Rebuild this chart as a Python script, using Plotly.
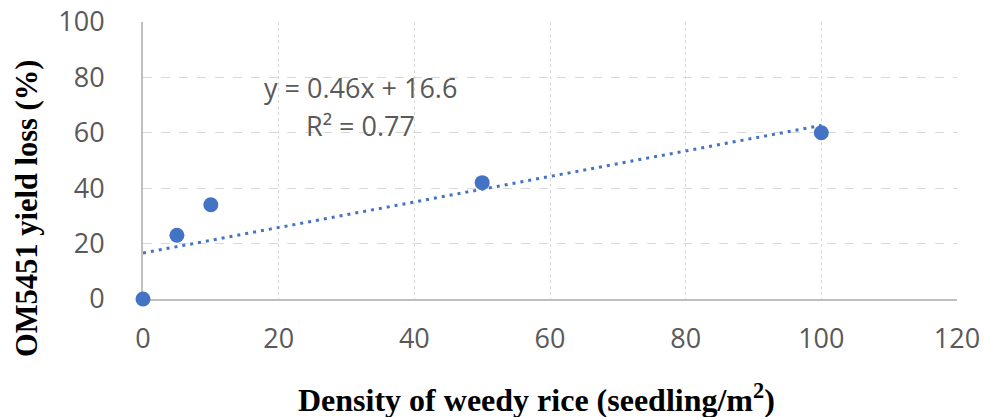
import numpy as np
import plotly.graph_objects as go

density = [0, 5, 10, 50, 100]
yield_loss = [0, 23, 34, 42, 60]
x_ticks = [0, 20, 40, 60, 80, 100, 120]
y_ticks = [0, 20, 40, 60, 80, 100]
equation_label = "y = 0.46x + 16.6"
r2_label = "R² = 0.77"

blue = "#4472C4"
grey_txt = "#595959"

slope, intercept = np.polyfit(density, yield_loss, 1)
trend_x = [min(density), max(density)]
trend_y = [slope * v + intercept for v in trend_x]

fig = go.Figure()
fig.add_trace(go.Scatter(x=trend_x, y=trend_y, mode="lines",
                         line=dict(color=blue, width=3, dash="3px,5px"),
                         hoverinfo="skip", showlegend=False))
fig.add_trace(go.Scatter(x=density, y=yield_loss, mode="markers",
                         marker=dict(color=blue, size=15), showlegend=False,
                         cliponaxis=False))

fig.add_annotation(x=32, y=76.5, xref="x", yref="y", showarrow=False,
                   text=equation_label,
                   font=dict(family="Open Sans", size=27, color=grey_txt))
fig.add_annotation(x=32, y=62.5, xref="x", yref="y", showarrow=False,
                   text=r2_label,
                   font=dict(family="Open Sans", size=27, color=grey_txt))

fig.add_annotation(x=-0.1425, y=0.325, xref="paper", yref="paper", showarrow=False,
                   textangle=-90, xanchor="center", yanchor="middle",
                   text="<b>OM5451 yield loss (%)</b>",
                   font=dict(family="Liberation Serif", size=30.5, color="black"))
fig.add_annotation(x=0.484, y=-0.358, xref="paper", yref="paper", showarrow=False,
                   xanchor="center", yanchor="middle",
                   text="<b>Density of weedy rice (seedling/m<sup>2</sup>)</b>",
                   font=dict(family="Liberation Serif", size=32, color="black"))

fig.update_layout(
    width=985, height=417,
    margin=dict(l=143, r=28, t=22, b=118, autoexpand=False),
    plot_bgcolor="white", paper_bgcolor="white",
    font=dict(family="Open Sans", size=27, color=grey_txt),
)
fig.update_xaxes(range=[0, 120], tickvals=x_ticks, showgrid=True,
                 gridcolor="#d9d9d9", griddash="dot", gridwidth=1,
                 showline=True, linecolor="#bfbfbf", linewidth=2,
                 layer="below traces",
                 zeroline=False, ticks="", ticklabelstandoff=15, automargin=False,
                 tickfont=dict(family="Open Sans", size=27, color=grey_txt))
fig.update_yaxes(range=[0, 100], tickvals=y_ticks, showgrid=True,
                 gridcolor="#d9d9d9", griddash="dash", gridwidth=1,
                 showline=True, linecolor="#bfbfbf", linewidth=2,
                 layer="below traces",
                 zeroline=False, ticks="", ticklabelstandoff=31, automargin=False,
                 tickfont=dict(family="Open Sans", size=27, color=grey_txt))

fig.write_html("out.html", config={"displayModeBar": False},
               post_script="document.body.style.margin='0';document.body.style.overflow='hidden';")
